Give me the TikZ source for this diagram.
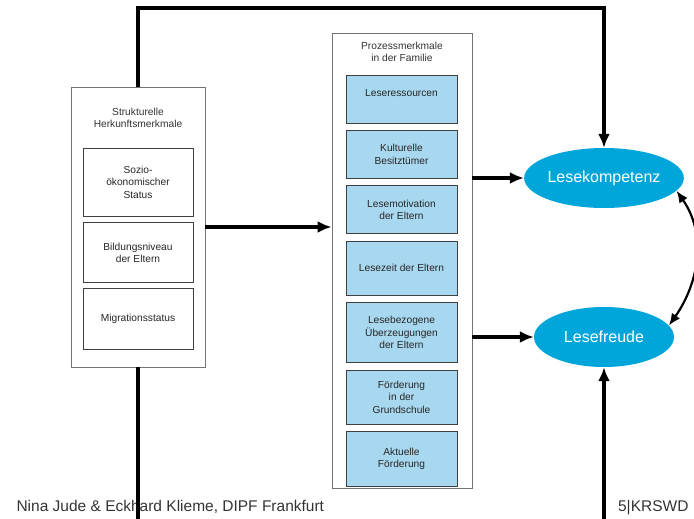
\documentclass[tikz,border=0pt]{standalone}
\usepackage{fontspec}
\setmainfont{Liberation Sans}
\usetikzlibrary{arrows.meta,positioning,shapes.geometric}
\definecolor{boxblue}{RGB}{168,216,240}
\definecolor{ovalblue}{RGB}{0,166,218}
\newcommand{\boxfont}{\fontsize{10.2}{12.5}\selectfont}

\begin{document}
\begin{tikzpicture}[
    x=1pt, y=1pt,
    node distance=6.5pt,
    frame/.style={draw=black!55, line width=0.9pt, inner sep=0pt},
    title/.style={align=center, font=\boxfont, text=black!80},
    item/.style={draw=black!75, line width=0.9pt, align=center, font=\boxfont, text=black!85, inner sep=2pt},
    plain/.style={item, minimum width=110pt},
    shaded/.style={item, fill=boxblue, minimum width=111pt},
    outcome/.style={ellipse, fill=ovalblue, text=white, font=\fontsize{16}{18}\selectfont,
                    minimum width=140pt, minimum height=60pt, inner sep=0pt},
    footer/.style={font=\fontsize{15.5}{18}\selectfont, text=black!80},
    link/.style={line width=3.4pt},
    flow/.style={link, -{Latex[length=14pt,width=12pt]}},
    mutual/.style={line width=2.2pt, {Latex[length=12pt,width=10pt]}-{Latex[length=12pt,width=10pt]}}]
  \useasboundingbox (0,0) rectangle (694,-519);
  % footer
  \node[footer, anchor=base west] (autor) at (13,-511) {Nina Jude \& Eckhard Klieme, DIPF Frankfurt};
  \node[footer, anchor=base east] (seite) at (692,-511) {5|KRSWD};
  % structural background
  \node[frame, minimum width=134pt, minimum height=280pt] (struk) at (138,-227) {};
  \node[title] (strukT) at (138,-118) {Strukturelle\\Herkunftsmerkmale};
  \node[plain, minimum height=68pt] (ses) at (138,-182) {Sozio-\\ökonomischer\\Status};
  \node[plain, minimum height=60pt, below=6pt of ses] (bildung) {Bildungsniveau\\der Eltern};
  \node[plain, minimum height=61pt, below=5pt of bildung] (migration) {Migrationsstatus};
  % family processes
  \node[frame, minimum width=140pt, minimum height=455pt] (proz) at (402,-260.5) {};
  \node[title] (prozT) at (402,-52) {Prozessmerkmale\\in der Familie};
  \node[shaded, minimum height=48pt, text depth=12pt] (ressourcen) at (401.5,-99) {Leseressourcen};
  \node[shaded, minimum height=48pt, below=of ressourcen] (kultur) {Kulturelle\\Besitztümer};
  \node[shaded, minimum height=48pt, below=of kultur] (motivation) {Lesemotivation\\der Eltern};
  \node[shaded, minimum height=54pt, below=of motivation] (lesezeit) {Lesezeit der Eltern};
  \node[shaded, minimum height=60pt, below=of lesezeit] (ueberzeugung) {Lesebezogene\\Überzeugungen\\der Eltern};
  \node[shaded, minimum height=54pt, below=of ueberzeugung] (schule) {Förderung\\in der\\Grundschule};
  \node[shaded, minimum height=55pt, below=of schule] (aktuell) {Aktuelle\\Förderung};
  % outcomes
  \node[outcome] (kompetenz) at (604,-178) {Lesekompetenz};
  \node[outcome] (freude) at (604,-337) {Lesefreude};
  % connectors
  \coordinate (oben) at (0,-8);
  \coordinate (untenL) at (138,-519);
  \coordinate (untenR) at (604,-519);
  \draw[flow] (struk.north) -- (struk.north |- oben) -| (kompetenz.north);
  \draw[link] (struk.south) -- (untenL);
  \draw[flow] (untenR) -- (freude.south);
  \draw[flow] (struk.east) -- (struk.east -| proz.west);
  \draw[flow] (proz.east |- kompetenz) -- (kompetenz);
  \draw[flow] (proz.east |- freude) -- (freude);
  \draw[mutual] (kompetenz.-10) to[out=-55, in=55] (freude.10);
\end{tikzpicture}
\end{document}
